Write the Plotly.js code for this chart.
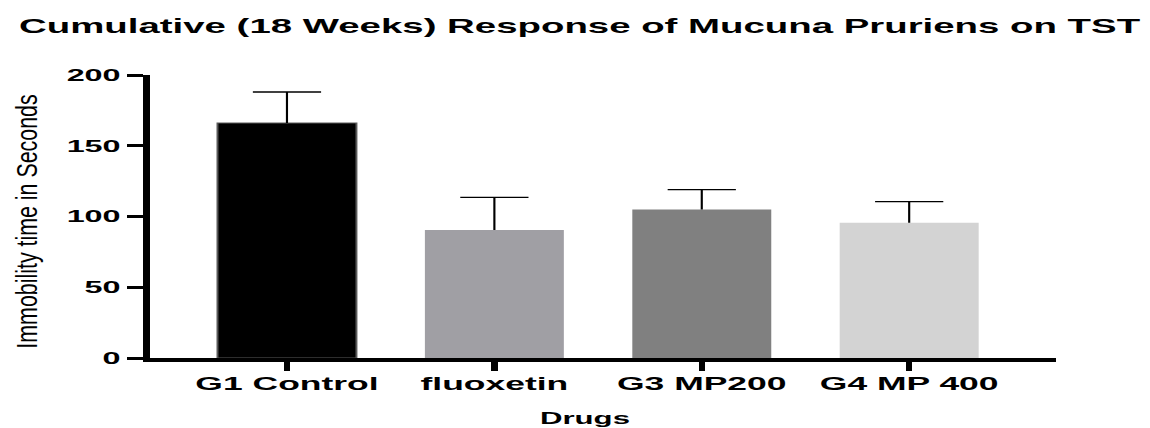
<!DOCTYPE html>
<html>
<head>
<meta charset="utf-8">
<script src="https://cdn.plot.ly/plotly-3.0.1.min.js"></script>
<style>
  html, body { margin: 0; padding: 0; background: #ffffff; overflow: hidden; }
  #wrap { width: 590px; height: 428px; transform-origin: 0 0; }
</style>
</head>
<body>
<div id="wrap"><div id="chart"></div></div>
<script>
// ---- data ----
const categories = ['G1 Control', 'fluoxetin', 'G3 MP200', 'G4 MP 400'];
const meanValues = [166, 90.5, 105, 95.5];
const sdValues = [22, 23, 14, 15];
const yTickValues = [0, 50, 100, 150, 200];
const yTickLabels = ['0', '50', '100', '150', '200'];

// ---- style ----
const barColors = ['#000000', '#a09fa4', '#808080', '#d3d3d3'];
const barEdgeWidths = [1, 0, 0, 0];
const S = 1150 / 590;   // horizontal stretch of the reference picture
const K = 1.4;          // net horizontal scale of the (condensed) y title
document.getElementById('wrap').style.transform = 'scaleX(' + S + ')';
const FONT = 'Liberation Sans, Arial, Helvetica, sans-serif';

const gd = document.getElementById('chart');

const upperEnds = meanValues.map((m, i) => m + sdValues[i]);

const data = [{
  type: 'bar',
  x: categories,
  y: meanValues,
  width: 0.67,
  marker: { color: barColors, line: { width: barEdgeWidths, color: '#5a5a5a' } },
  hoverinfo: 'none'
}, {
  // upper error bars: stem from the bar top up to the cap
  type: 'scatter',
  mode: 'markers',
  x: categories,
  y: upperEnds,
  marker: { symbol: 'line-ew', size: 25, color: '#000000', line: { width: 1.3, color: '#000000' } },
  error_y: {
    type: 'data',
    symmetric: false,
    array: sdValues.map(() => 0),
    arrayminus: sdValues,
    color: '#000000',
    thickness: 1.1,
    width: 0
  },
  hoverinfo: 'none'
}];

const layout = {
  width: 590,
  height: 428,
  margin: { l: 77, r: 48, t: 75, b: 70 },
  paper_bgcolor: '#ffffff',
  plot_bgcolor: '#ffffff',
  showlegend: false,
  title: {
    text: '<b>Cumulative (18 Weeks) Response of Mucuna Pruriens on TST</b>',
    font: { family: FONT, size: 19.7, color: '#000000' },
    x: 0.504, xanchor: 'center', xref: 'container',
    y: 1 - 26 / 428, yanchor: 'middle', yref: 'container'
  },
  xaxis: {
    type: 'category',
    range: [-0.66, 3.71],
    showline: true, linecolor: '#000000', linewidth: 3.5,
    ticks: 'outside', ticklen: 9, tickwidth: 3.3, tickcolor: '#000000',
    showgrid: false, zeroline: false,
    tickfont: { family: FONT, size: 18.2, color: '#000000', weight: 'bold' },
    ticklabelstandoff: -2,
    fixedrange: true
  },
  yaxis: {
    range: [0, 200],
    tickvals: yTickValues,
    ticktext: yTickLabels,
    showline: true, linecolor: '#000000', linewidth: 3.8,
    ticks: 'outside', ticklen: 8, tickwidth: 3, tickcolor: '#000000',
    showgrid: false, zeroline: false,
    tickfont: { family: FONT, size: 16.6, color: '#000000', weight: 'bold' },
    ticklabelstandoff: 0.5,
    title: {
      text: 'Immobility time in Seconds',
      font: { family: FONT, size: 21.4, color: '#000000' },
      standoff: 10
    },
    fixedrange: true
  },
  annotations: [{
    text: '<b>Drugs</b>',
    xref: 'paper', yref: 'paper',
    x: (584 / S - 77) / 465, y: (358 - 418) / 283,
    xanchor: 'center', yanchor: 'middle',
    showarrow: false,
    font: { family: FONT, size: 16, color: '#000000' }
  }]
};

function fixYTitle() {
  const t = gd.querySelector('.ytitle');
  if (!t) return;
  const r = t.getBoundingClientRect();
  const cx = ((r.left + r.right) / 2) / S;
  const target = 26 / S;
  const orig = t.getAttribute('transform') || '';
  t.setAttribute('transform',
    'translate(' + target + ',5) scale(' + (K / S) + ',1) translate(' + (-cx) + ',0) ' + orig);
}

Plotly.newPlot(gd, data, layout, { staticPlot: true, displayModeBar: false }).then(fixYTitle);
</script>
</body>
</html>
